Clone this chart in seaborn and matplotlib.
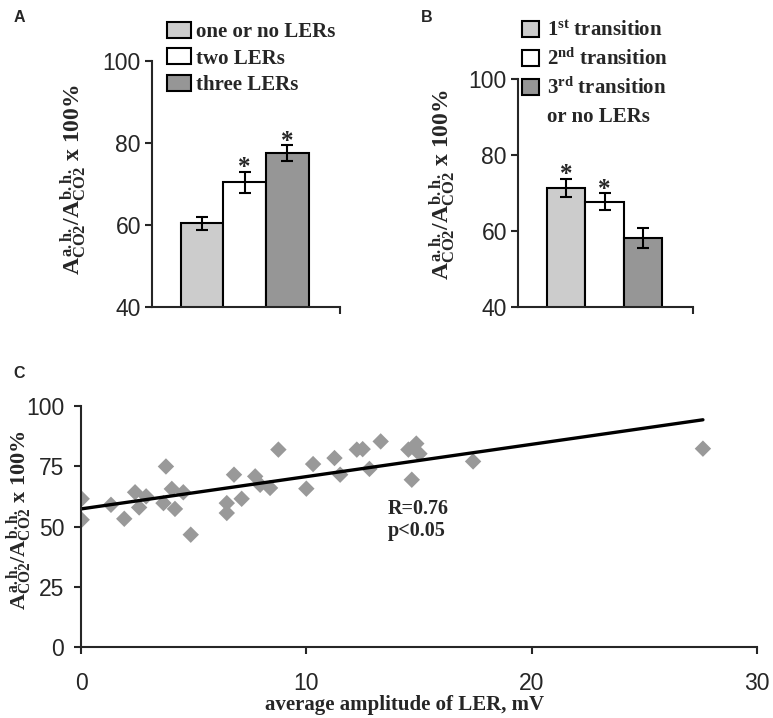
import matplotlib
matplotlib.use("Agg")
import matplotlib.pyplot as plt
from matplotlib.patches import Patch
import seaborn as sns

# Panel A: grouped by number of LERs
a_labels = ["one or no LERs", "two LERs", "three LERs"]
a_values = [60.4, 70.4, 77.5]
a_errors = [1.6, 2.5, 1.9]
a_stars = [False, True, True]

# Panel B: grouped by transition
b_labels = ["1$^{st}$ transition", "2$^{nd}$ transition", "3$^{rd}$ transition"]
b_extra_line = "or no LERs"
b_values = [71.4, 67.7, 58.2]
b_errors = [2.4, 2.2, 2.6]
b_stars = [True, True, False]

bar_colors = ["#cccccc", "#ffffff", "#969696"]

# Panel C: amplitude vs ratio
amplitude = [0.03, 0.03, 1.33, 1.92, 2.40, 2.58, 2.89, 3.66, 3.77, 4.03, 4.17,
             4.54, 4.87, 6.47, 6.47, 6.79, 7.13, 7.73, 7.95, 8.39, 8.76, 10.0,
             10.3, 11.25, 11.5, 12.24, 12.5, 12.8, 13.3, 14.53, 14.88, 15.02,
             14.68, 17.4, 27.6]
ratio = [61.5, 52.8, 59.0, 53.2, 64.2, 57.9, 62.5, 59.7, 74.9, 65.6, 57.3,
         64.2, 46.6, 59.7, 55.6, 71.5, 61.5, 70.8, 67.3, 66.0, 81.9, 65.7,
         75.9, 78.4, 71.5, 81.9, 82.1, 73.9, 85.3, 81.9, 84.4, 80.2,
         69.4, 77.0, 82.3]
fit_intercept = 57.3
fit_slope = 1.34
stats_text = "R=0.76\np<0.05"

ylabel = r"$A_{CO2}^{a.h.}/A_{CO2}^{b.h.}$ x 100%"

sns.set_style("ticks")
plt.rcParams["font.family"] = ["Liberation Sans", "DejaVu Sans"]
plt.rcParams["mathtext.fontset"] = "custom"
plt.rcParams["mathtext.rm"] = "Liberation Serif:bold"
plt.rcParams["mathtext.it"] = "Liberation Serif:bold"
plt.rcParams["mathtext.bf"] = "Liberation Serif:bold"
plt.rcParams["axes.linewidth"] = 1.5

W, H = 773, 718
fig = plt.figure(figsize=(W / 100, H / 100), dpi=100)

serif_bold = dict(family="Liberation Serif", weight="bold")


def px_axes(left, right, top, bottom):
    return fig.add_axes([left / W, 1 - bottom / H, (right - left) / W, (bottom - top) / H])


def bar_panel(ax, labels, values, errors, stars, xlim):
    sns.barplot(x=labels, y=values, hue=labels, palette=bar_colors, width=1,
                edgecolor="black", linewidth=1.5, errorbar=None, legend=False, ax=ax)
    ax.errorbar(range(len(values)), values, yerr=errors, fmt="none", ecolor="black",
                elinewidth=1.5, capsize=4, capthick=1.5)
    for i, (v, e, s) in enumerate(zip(values, errors, stars)):
        if s:
            ax.annotate("*", xy=(i, v + e), xytext=(0, 3), textcoords="offset points",
                        ha="center", va="center", fontsize=18, **serif_bold)
    ax.set_ylim(40, 100)
    ax.set_yticks([40, 60, 80, 100])
    ax.set_xlim(*xlim)
    ax.set_xticks([xlim[1]])
    ax.set_xticklabels([""])
    ax.set_xlabel("")
    ax.tick_params(direction="out", length=5, width=1.5, labelsize=16.5, pad=3)
    sns.despine(ax=ax)


# Panel A
ax_a = px_axes(152, 340, 61, 307)
bar_panel(ax_a, a_labels, a_values, a_errors, a_stars, (-1.17, 3.23))
ax_a.set_ylabel(ylabel, fontsize=17, **serif_bold)
ax_a.yaxis.set_label_coords(-0.335, 0.52)
ax_a.legend(handles=list(ax_a.patches), labels=a_labels, loc="upper left",
            bbox_to_anchor=(167 / W, 1 - 22 / H), bbox_transform=fig.transFigure,
            frameon=False, borderpad=0, borderaxespad=0, handlelength=1.15,
            handleheight=0.8, handletextpad=0.25, labelspacing=0.3,
            prop=dict(size=15, **serif_bold))

# Panel B
ax_b = px_axes(518, 693, 79, 307)
bar_panel(ax_b, b_labels, b_values, b_errors, b_stars, (-1.25, 3.30))
ax_b.set_ylabel(ylabel, fontsize=17, **serif_bold)
ax_b.yaxis.set_label_coords(-0.34, 0.537)
b_handles = list(ax_b.patches) + [Patch(facecolor="none", edgecolor="none")]
ax_b.legend(handles=b_handles, labels=b_labels + [b_extra_line], loc="upper left",
            bbox_to_anchor=(522 / W, 1 - 21 / H), bbox_transform=fig.transFigure,
            frameon=False, borderpad=0, borderaxespad=0, handlelength=0.8,
            handleheight=0.8, handletextpad=0.4, labelspacing=0.36,
            prop=dict(size=15, **serif_bold))

# Panel C
ax_c = px_axes(81, 757, 406, 647)
sns.scatterplot(x=amplitude, y=ratio, marker="D", color="#999999", s=70,
                edgecolor="none", ax=ax_c)
x_fit = [0, max(amplitude)]
ax_c.plot(x_fit, [fit_intercept + fit_slope * x for x in x_fit], color="black", lw=2.4)
ax_c.text(13.6, 61.5, stats_text, ha="left", va="top", fontsize=14.5,
          linespacing=1.15, **serif_bold)
ax_c.set_xlim(0, 30)
ax_c.set_ylim(0, 100)
ax_c.set_xticks([0, 10, 20, 30])
ax_c.set_yticks([0, 25, 50, 75, 100])
ax_c.tick_params(axis="both", direction="out", length=5, width=1.5, labelsize=16.5)
ax_c.tick_params(axis="x", pad=13)
ax_c.tick_params(axis="y", pad=7)
ax_c.set_xlabel("average amplitude of LER, mV", fontsize=15, **serif_bold)
ax_c.xaxis.set_label_coords(0.478, -0.2)
ax_c.set_ylabel(ylabel, fontsize=16, **serif_bold)
ax_c.yaxis.set_label_coords(-0.068, 0.527)
sns.despine(ax=ax_c)

# Panel letters
for letter, (px, py) in zip("ABC", [(19, 17), (427, 17), (19, 373)]):
    fig.text(px / W, 1 - py / H, letter, ha="center", va="center",
             fontsize=11.5, weight="bold", family="Liberation Sans")

fig.savefig("out.png", dpi=100)
